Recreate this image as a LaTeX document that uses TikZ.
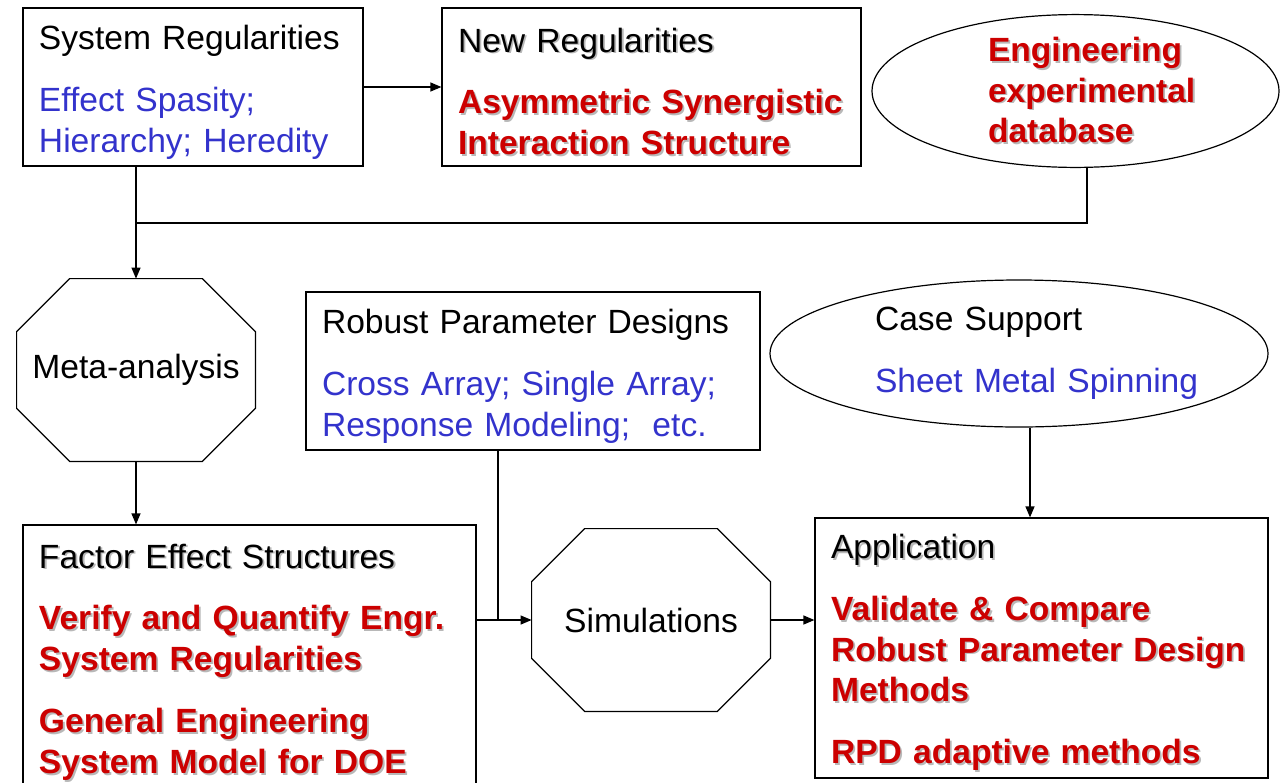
\documentclass[tikz,border=0pt]{standalone}
\usepackage{fontspec}
\setmainfont{Liberation Sans}
\usetikzlibrary{calc}
\usetikzlibrary{positioning}
\usetikzlibrary{shapes.geometric}
\usetikzlibrary{arrows.meta}

\definecolor{lnkblue}{RGB}{51,51,204}
\definecolor{engred}{RGB}{204,0,0}
\newcommand{\shd}[1]{\makebox[0pt][l]{\hspace{0.9pt}\raisebox{-0.9pt}{\textcolor{black!28}{#1}}}#1}
\newcommand{\boxfont}{\fontsize{16.8}{20.4}\selectfont}

\tikzset{
  txtbox/.style={draw, rectangle, line width=0.6pt, inner xsep=8pt, inner ysep=2pt, align=left, font=\boxfont,
    execute at begin node={\rule{0pt}{17.5pt}}},
  oval/.style={draw, ellipse, line width=0.6pt, inner sep=0pt, align=left, font=\boxfont},
  octo/.style={rectangle, inner sep=0pt, minimum width=119pt, minimum height=91pt, font=\boxfont},
  wire/.style={line width=0.6pt},
  link/.style={line width=0.6pt, -{Triangle[length=5.5pt,width=4.5pt]}}
}

\begin{document}
\begin{tikzpicture}[x=0.5pt,y=-0.5pt]
\useasboundingbox (0,0) rectangle (1283,782);

% top row
\node[txtbox, text width=154pt, minimum height=79pt] (sysreg) at (193,87)
  {System Regularities\\[10.5pt]
   \color{lnkblue}Effect Spasity;\\Hierarchy; Heredity};
\node[txtbox, text width=193.5pt, minimum height=79pt] (newreg) at (651.5,87)
  {\shd{New Regularities}\\[10.5pt]
   \color{engred}\bfseries\shd{Asymmetric Synergistic}\\\shd{Interaction Structure}};
\node[oval, text width=87.5pt, minimum width=203.5pt, minimum height=73.5pt] (dbase) at (1075.5,91)
  {\color{engred}\bfseries\shd{Engineering}\\\shd{experimental}\\\shd{database}};

% middle row
\node[octo] (meta) at (136,370) {Meta-analysis};
\node[txtbox, text width=211pt, minimum height=79pt] (rpd) at (533,371)
  {Robust Parameter Designs\\[10.5pt]
   \color{lnkblue}Cross Array; Single Array;\\Response Modeling;~~etc.};
\node[oval, text width=144pt, minimum width=249pt, minimum height=73.5pt] (case) at (1019,353.5)
  {Case Support\\[10.5pt]\color{lnkblue}\mbox{Sheet Metal Spinning}};

% bottom row
\node[txtbox, text width=210.5pt, minimum height=132.5pt] (fes) at (249.5,657.5)
  {\shd{Factor Effect Structures}\\[10.5pt]
   \color{engred}\bfseries\shd{Verify and Quantify Engr.}\\\shd{System Regularities}\\[10.5pt]
   \shd{General Engineering}\\\shd{System Model for DOE}};
\node[octo] (sim) at (651,620) {Simulations};
\node[txtbox, text width=210.5pt, minimum height=130pt] (app) at (1041.5,648)
  {\shd{Application}\\[10.5pt]
   \color{engred}\bfseries\shd{Validate \& Compare}\\\shd{Robust Parameter Design}\\\shd{Methods}\\[10.5pt]
   \shd{RPD adaptive methods}};

% octagon outlines
\foreach \n in {meta,sim}
  \draw[wire] ($(\n.north west)+(26.5pt,0)$) -- ($(\n.north east)+(-26.5pt,0)$)
    -- ($(\n.north east)+(0,-26.5pt)$) -- ($(\n.south east)+(0,26.5pt)$)
    -- ($(\n.south east)+(-26.5pt,0)$) -- ($(\n.south west)+(26.5pt,0)$)
    -- ($(\n.south west)+(0,26.5pt)$) -- ($(\n.north west)+(0,-26.5pt)$) -- cycle;

% connectors
\coordinate (join) at (136,223);
\coordinate (tee) at (498,620);
\coordinate (dbout) at ($(dbase.south)+(11.5,0)$);
\coordinate (caseout) at ($(case.south)+(11,0)$);
\draw[link] (sysreg.east) -- (newreg.west);
\draw[wire] (sysreg.south -| join) -- (join);
\draw[wire] (dbout) |- (join);
\draw[link] (join) -- (join |- meta.north);
\draw[link] (meta.south) -- (meta.south |- fes.north);
\draw[link] (fes.east |- sim.west) -- (sim.west);
\draw[wire] (rpd.south -| tee) -- (tee);
\draw[link] (sim.east) -- (sim.east -| app.west);
\draw[link] (caseout) -- (caseout |- app.north);

\end{tikzpicture}
\end{document}
